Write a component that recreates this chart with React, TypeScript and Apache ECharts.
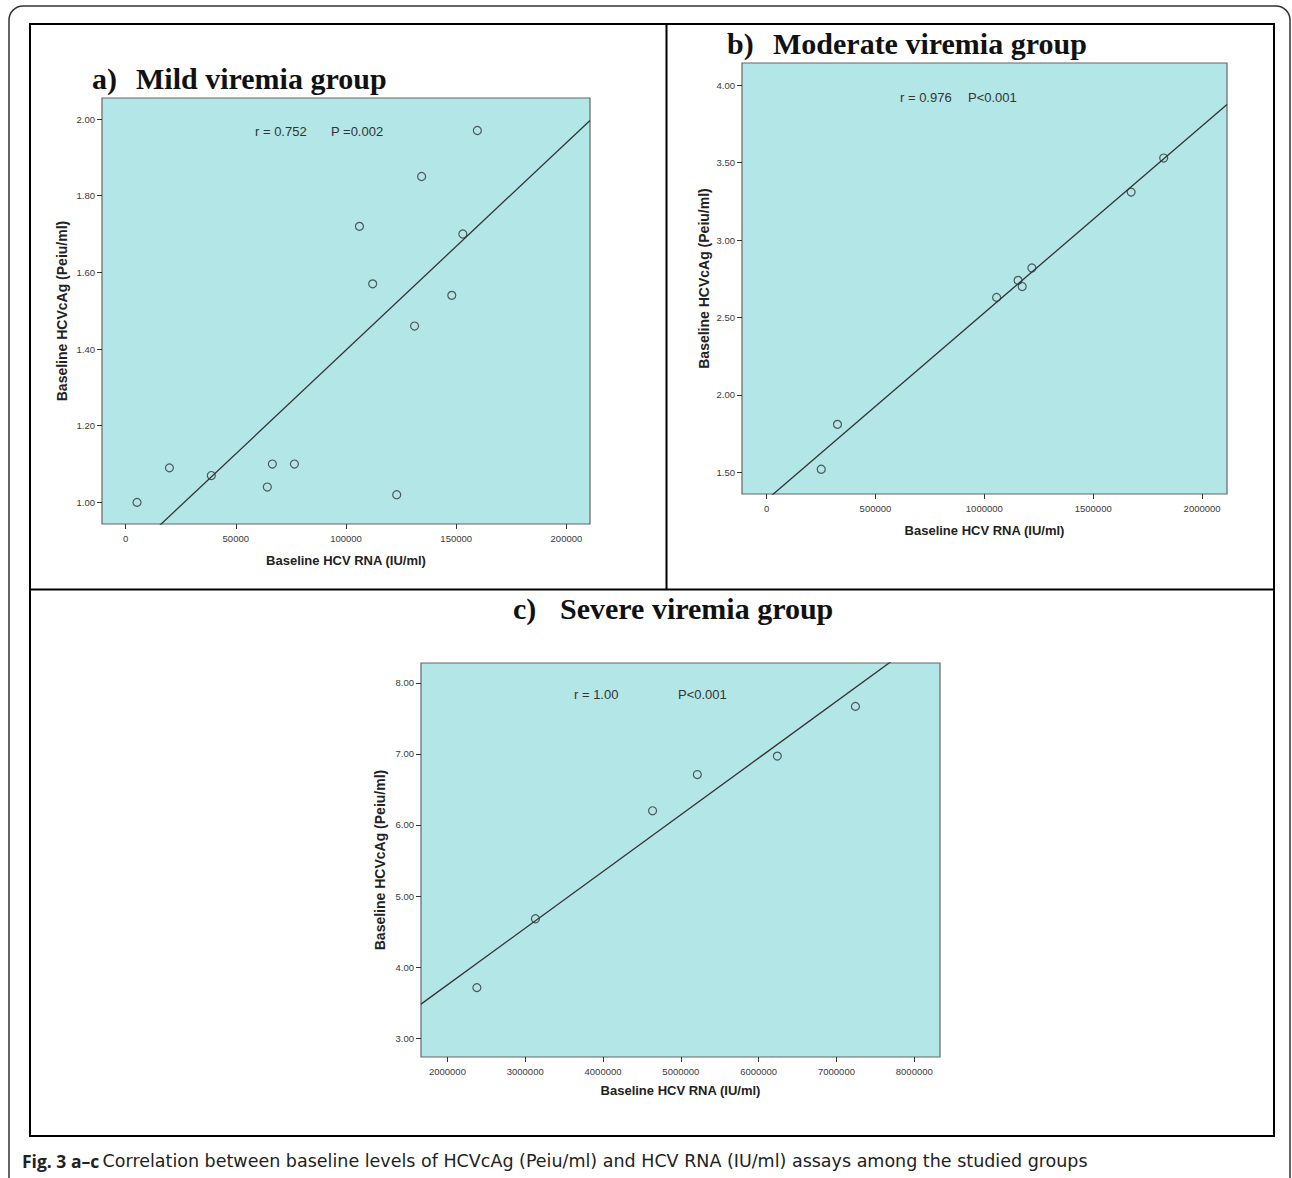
import React, { useEffect, useRef } from "react";
import * as echarts from "echarts";

// ---- Data ----
const mildRNA = [5190, 19900, 38900, 64300, 66600, 76600, 106100, 112100, 123000, 131100, 134300, 148000, 153000, 159600];
const mildAg = [1.0, 1.09, 1.07, 1.04, 1.1, 1.1, 1.72, 1.57, 1.02, 1.46, 1.85, 1.54, 1.7, 1.97];

const modRNA = [251000, 325600, 1056400, 1154900, 1173900, 1218400, 1674300, 1823700];
const modAg = [1.52, 1.81, 2.63, 2.74, 2.7, 2.82, 3.31, 3.53];

const sevRNA = [2378700, 3131300, 4636500, 5212000, 6240000, 7243500];
const sevAg = [3.71, 4.68, 6.2, 6.71, 6.97, 7.67];

const mildXTicks = [0, 50000, 100000, 150000, 200000];
const mildYTicks = [1.0, 1.2, 1.4, 1.6, 1.8, 2.0];
const modXTicks = [0, 500000, 1000000, 1500000, 2000000];
const modYTicks = [1.5, 2.0, 2.5, 3.0, 3.5, 4.0];
const sevXTicks = [2000000, 3000000, 4000000, 5000000, 6000000, 7000000, 8000000];
const sevYTicks = [3, 4, 5, 6, 7, 8];

const mildXRange = [-10697, 210697];
const mildYRange = [0.9436, 2.0548];
const modXRange = [-112800, 2114400];
const modYRange = [1.36, 4.144];
const sevXRange = [1660600, 8330500];
const sevYRange = [2.733, 8.281];

const statsText = [
  ["r = 0.752", "P =0.002"],
  ["r = 0.976", "P<0.001"],
  ["r = 1.00", "P<0.001"],
];

const panelTitles = [
  ["a)", "Mild viremia group"],
  ["b)", "Moderate viremia group"],
  ["c)", "Severe viremia group"],
];

const xTitle = "Baseline HCV RNA (IU/ml)";
const yTitle = "Baseline HCVcAg (Peiu/ml)";

function fit(xs: number[], ys: number[]) {
  const n = xs.length;
  const mx = xs.reduce((a, b) => a + b, 0) / n;
  const my = ys.reduce((a, b) => a + b, 0) / n;
  let sxy = 0;
  let sxx = 0;
  for (let i = 0; i < n; i++) {
    sxy += (xs[i] - mx) * (ys[i] - my);
    sxx += (xs[i] - mx) * (xs[i] - mx);
  }
  const b = sxy / sxx;
  const a = my - b * mx;
  return { a, b };
}

const PLOT_BG = "#b3e6e6";
const SANS = "'Liberation Sans', Arial, sans-serif";
const SERIF = "'Liberation Serif', 'Times New Roman', serif";

function makeAxes(
  idx: number,
  xr: number[],
  yr: number[],
  xt: number[],
  yt: number[],
  xGap: number,
  yGap: number
) {
  const tick = { show: true, length: 5, lineStyle: { color: "#333", width: 1 } };
  const xAxis = {
    type: "value",
    gridIndex: idx,
    min: xr[0],
    max: xr[1],
    axisLine: { show: false, onZero: false },
    splitLine: { show: false },
    axisTick: { ...tick, customValues: xt },
    axisLabel: {
      customValues: xt,
      formatter: (v: number) => String(Math.round(v)),
      color: "#3a3a3a",
      fontSize: 9.5,
      fontFamily: SANS,
      margin: 9,
    },
    name: xTitle,
    nameLocation: "middle",
    nameGap: xGap,
    nameTextStyle: { fontWeight: "bold", fontSize: 13, color: "#222", fontFamily: SANS },
  };
  const yAxis = {
    type: "value",
    gridIndex: idx,
    min: yr[0],
    max: yr[1],
    axisLine: { show: false, onZero: false },
    splitLine: { show: false },
    axisTick: { ...tick, customValues: yt },
    axisLabel: {
      customValues: yt,
      formatter: (v: number) => v.toFixed(2),
      color: "#3a3a3a",
      fontSize: 9.5,
      fontFamily: SANS,
      margin: 7,
    },
    name: yTitle,
    nameLocation: "middle",
    nameGap: yGap,
    nameTextStyle: { fontWeight: "bold", fontSize: 14, color: "#222", fontFamily: SANS },
  };
  return { xAxis, yAxis };
}

function makeSeries(idx: number, xs: number[], ys: number[], xr: number[]) {
  const { a, b } = fit(xs, ys);
  return [
    {
      type: "scatter",
      xAxisIndex: idx,
      yAxisIndex: idx,
      data: xs.map((x, i) => [x, ys[i]]),
      symbol: "circle",
      symbolSize: 8,
      itemStyle: { color: "rgba(0,0,0,0)", borderColor: "#333", borderWidth: 1.2 },
      z: 3,
    },
    {
      type: "line",
      xAxisIndex: idx,
      yAxisIndex: idx,
      data: [
        [xr[0], a + b * xr[0]],
        [xr[1], a + b * xr[1]],
      ],
      showSymbol: false,
      symbol: "none",
      clip: true,
      lineStyle: { color: "#333", width: 1.3 },
      z: 2,
    },
  ];
}

export default function App() {
  const ref = useRef<HTMLDivElement>(null);

  useEffect(() => {
    document.body.style.margin = "0";
    const chart = echarts.init(ref.current!, undefined, { renderer: "svg" });

    const A = makeAxes(0, mildXRange, mildYRange, mildXTicks, mildYTicks, 30, 33);
    const B = makeAxes(1, modXRange, modYRange, modXTicks, modYTicks, 30, 31);
    const C = makeAxes(2, sevXRange, sevYRange, sevXTicks, sevYTicks, 27, 34);

    const gridStyle = {
      show: true,
      backgroundColor: PLOT_BG,
      borderColor: "#666",
      borderWidth: 1.2,
    };

    const titleText = (x1: number, x2: number, y: number, t: string[]) => [
      {
        type: "text",
        x: x1,
        y,
        style: { text: t[0], font: `bold 30px ${SERIF}`, fill: "#111", verticalAlign: "middle" },
      },
      {
        type: "text",
        x: x2,
        y,
        style: { text: t[1], font: `bold 30px ${SERIF}`, fill: "#111", verticalAlign: "middle" },
      },
    ];

    const stat = (x: number, y: number, s: string) => ({
      type: "text",
      x,
      y,
      style: { text: s, font: `13px ${SANS}`, fill: "#333", verticalAlign: "middle" },
      z: 10,
    });

    chart.setOption({
      animation: false,
      backgroundColor: "#fff",
      grid: [
        { left: 102, top: 98, width: 488, height: 426, ...gridStyle },
        { left: 742, top: 63, width: 485, height: 431, ...gridStyle },
        { left: 421, top: 663, width: 519, height: 394, ...gridStyle },
      ],
      xAxis: [A.xAxis, B.xAxis, C.xAxis],
      yAxis: [A.yAxis, B.yAxis, C.yAxis],
      series: [
        ...makeSeries(0, mildRNA, mildAg, mildXRange),
        ...makeSeries(1, modRNA, modAg, modXRange),
        ...makeSeries(2, sevRNA, sevAg, sevXRange),
      ],
      graphic: [
        {
          type: "rect",
          shape: { x: 9, y: 6, width: 1281, height: 1190, r: 14 },
          style: { fill: "none", stroke: "#333", lineWidth: 1.5 },
          silent: true,
        },
        {
          type: "rect",
          shape: { x: 30, y: 24, width: 1244, height: 1112 },
          style: { fill: "none", stroke: "#000", lineWidth: 2 },
          silent: true,
        },
        {
          type: "line",
          shape: { x1: 666.5, y1: 24, x2: 666.5, y2: 589 },
          style: { stroke: "#000", lineWidth: 2 },
        },
        {
          type: "line",
          shape: { x1: 30, y1: 589.5, x2: 1274, y2: 589.5 },
          style: { stroke: "#000", lineWidth: 2 },
        },
        ...titleText(92, 136, 78, panelTitles[0]),
        ...titleText(727, 773, 43, panelTitles[1]),
        ...titleText(513, 560, 608, panelTitles[2]),
        stat(255, 131, statsText[0][0]),
        stat(331, 131, statsText[0][1]),
        stat(900, 97, statsText[1][0]),
        stat(968, 97, statsText[1][1]),
        stat(574, 694, statsText[2][0]),
        stat(678, 694, statsText[2][1]),
        {
          type: "text",
          x: 22,
          y: 1161,
          style: {
            text: "{b|Fig. 3 a–c} {r|Correlation between baseline levels of HCVcAg (Peiu/ml) and HCV RNA (IU/ml) assays among the studied groups}",
            verticalAlign: "middle",
            rich: {
              b: { fontWeight: "bold", fontSize: 17.5, fontFamily: "'Open Sans', sans-serif", fill: "#222" },
              r: { fontSize: 17.5, fontFamily: "'DejaVu Sans', sans-serif", fill: "#222" },
            },
          },
        },
      ],
    });

    return () => chart.dispose();
  }, []);

  return <div ref={ref} style={{ width: 1292, height: 1178 }} />;
}
